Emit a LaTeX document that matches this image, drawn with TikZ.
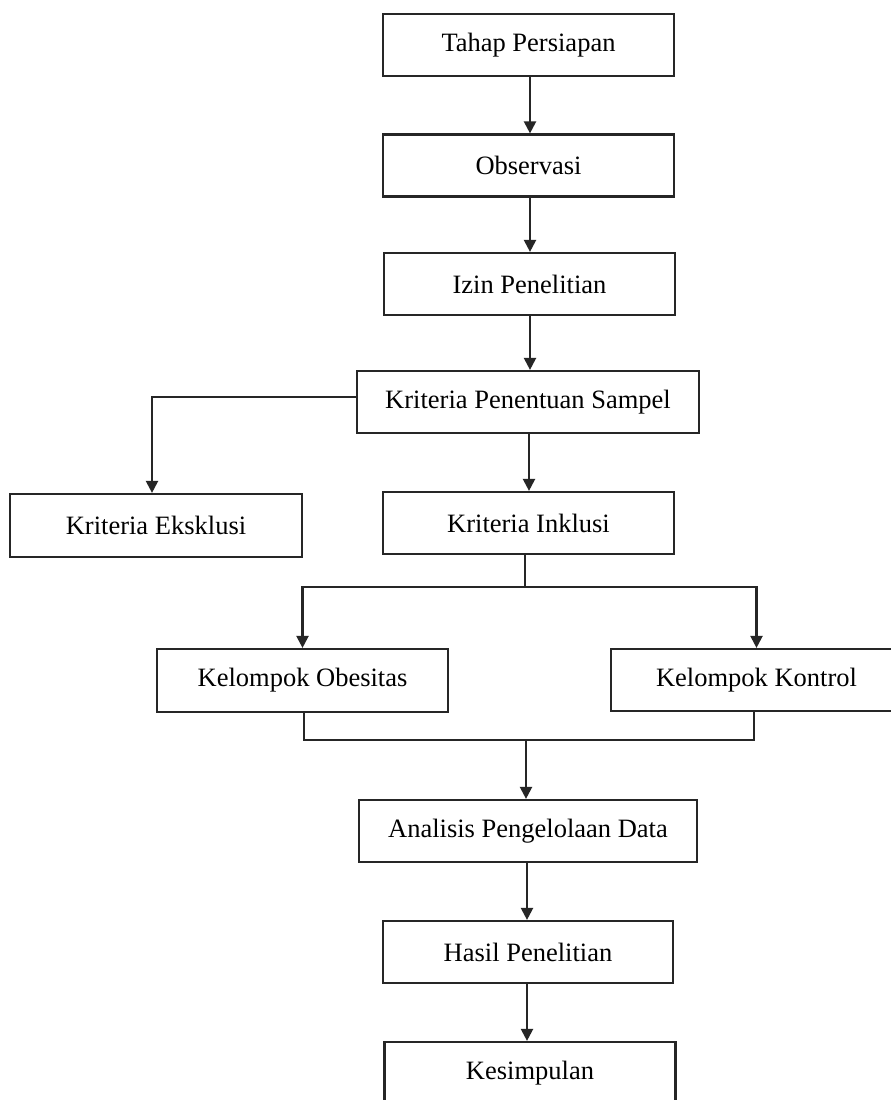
\documentclass[tikz,border=0pt]{standalone}
\usepackage{fontspec}
\setmainfont{Liberation Serif}
\usetikzlibrary{arrows.meta}
\begin{document}
\begin{tikzpicture}[x=1pt,y=-1pt,
  box/.style={draw=black!85, line width=2.2pt, rectangle, minimum height=62pt, inner sep=0pt,
    font=\fontsize{26.5}{32}\selectfont, text=black},
  arr/.style={draw=black!85, line width=2.2pt, -{Triangle[width=12pt,length=12pt]}},
  ln/.style={draw=black!85, line width=2.2pt}]
\useasboundingbox (0,0) rectangle (891,1100);
\clip (0,0) rectangle (891,1100);
\fill[white] (0,0) rectangle (891,1100);
\node[box, minimum width=291pt] (tah) at (528.5,45) {Tahap Persiapan};
\node[box, minimum width=291pt] (obs) at (528.5,165.5) {Observasi};
\node[box, minimum width=291pt] (izi) at (529.5,284) {Izin Penelitian};
\node[box, minimum width=342pt] (kps) at (528,402) {Kriteria Penentuan Sampel};
\node[box, minimum width=292pt, minimum height=63pt] (eks) at (156,525.5) {Kriteria Eksklusi};
\node[box, minimum width=291pt] (ink) at (528.5,523) {Kriteria Inklusi};
\node[box, minimum width=291pt, minimum height=63pt] (obe) at (302.5,680.5) {Kelompok Obesitas};
\node[box, minimum width=291pt] (kon) at (756.5,680) {Kelompok Kontrol};
\node[box, minimum width=338pt] (ana) at (528,831) {Analisis Pengelolaan Data};
\node[box, minimum width=290pt] (has) at (528,952) {Hasil Penelitian};
\node[box, minimum width=291pt] (kes) at (530,1073) {Kesimpulan};
\coordinate (split) at (525,587);
\coordinate (merge) at (526,740);
\draw[arr] (tah.south -| 530,0) -- (obs.north -| 530,0);
\draw[arr] (obs.south -| 530,0) -- (izi.north -| 530,0);
\draw[arr] (izi.south -| 530,0) -- (kps.north -| 530,0);
\draw[arr] (kps.south -| 529,0) -- (ink.north -| 529,0);
\draw[arr] ([yshift=5pt]kps.west) -| ([xshift=-4pt]eks.north);
\draw[ln] (ink.south -| split) -- (split);
\draw[arr] (split) -| (obe.north);
\draw[arr] (split) -| (kon.north);
\draw[ln] ([xshift=1.5pt]obe.south) |- ([xshift=-2.5pt]kon.south |- merge) -- ([xshift=-2.5pt]kon.south);
\draw[arr] (merge) -- (ana.north -| merge);
\draw[arr] (ana.south -| 527,0) -- (has.north -| 527,0);
\draw[arr] (has.south -| 527,0) -- (kes.north -| 527,0);
\end{tikzpicture}
\end{document}
